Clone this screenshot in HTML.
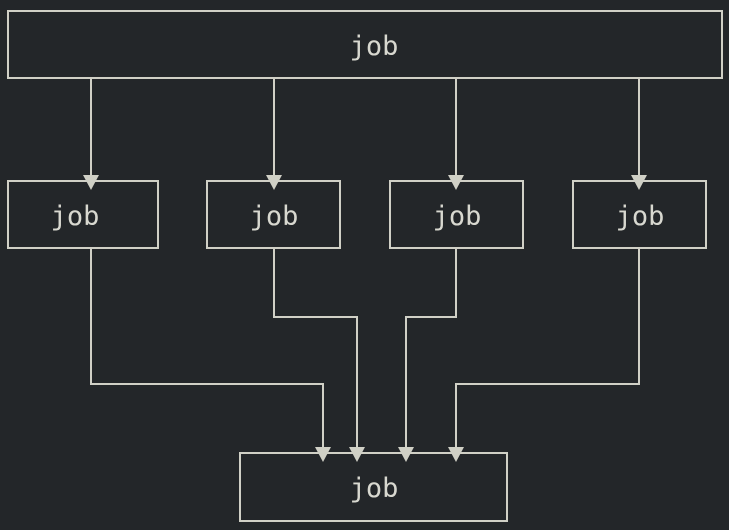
<!DOCTYPE html>
<html><head><style>
html,body{margin:0;padding:0;background:#232629;}
svg{display:block}
text{font-family:"DejaVu Sans Mono","Liberation Mono",monospace;font-size:27px;fill:#d8d8d0}
</style></head><body>
<svg width="729" height="530" viewBox="0 0 729 530">
<rect width="729" height="530" fill="#232629"/>
<g fill="none" stroke="#d0d0c6" stroke-width="2">
<rect x="8" y="11" width="714" height="67"/>
<rect x="8" y="181" width="150" height="67"/>
<rect x="207" y="181" width="133" height="67"/>
<rect x="390" y="181" width="133" height="67"/>
<rect x="573" y="181" width="133" height="67"/>
<rect x="240" y="453" width="267" height="68"/>
<path d="M91 78V178M274 78V178M456 78V178M639 78V178"/>
<path d="M91 248V384H323V450M274 248V317H357V450M456 248V317H406V450M639 248V384H456V450"/>
</g>
<g fill="#d0d0c6">
<path d="M83 175h16l-8 15z"/><path d="M266 175h16l-8 15z"/><path d="M448 175h16l-8 15z"/><path d="M631 175h16l-8 15z"/>
<path d="M315 447h16l-8 15z"/><path d="M349 447h16l-8 15z"/><path d="M398 447h16l-8 15z"/><path d="M448 447h16l-8 15z"/>
</g>
<text x="374" y="55" text-anchor="middle">job</text>
<text x="75" y="225" text-anchor="middle">job</text>
<text x="274" y="225" text-anchor="middle">job</text>
<text x="457" y="225" text-anchor="middle">job</text>
<text x="640" y="225" text-anchor="middle">job</text>
<text x="374" y="497" text-anchor="middle">job</text>
</svg>
</body></html>
